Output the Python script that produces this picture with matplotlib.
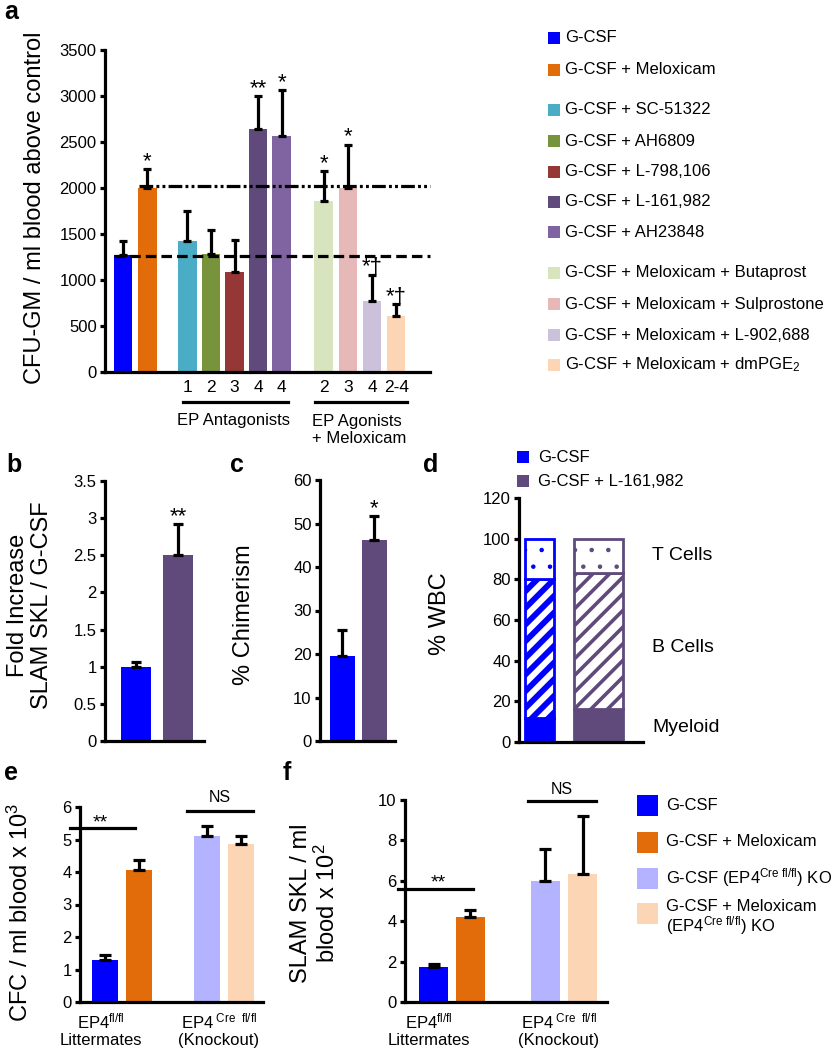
import matplotlib
matplotlib.use('Agg')
import matplotlib.pyplot as plt
from matplotlib.patches import Rectangle
from matplotlib.transforms import blended_transform_factory as btf
import numpy as np

plt.rcParams['font.family'] = ['Liberation Sans', 'DejaVu Sans']
plt.rcParams['mathtext.fontset'] = 'custom'
plt.rcParams['mathtext.rm'] = 'Liberation Sans'
plt.rcParams['mathtext.it'] = 'Liberation Sans:italic'
plt.rcParams['mathtext.bf'] = 'Liberation Sans:bold'
plt.rcParams['hatch.linewidth'] = 1.0

# ---------------- data ----------------
a_labels = ['G-CSF', 'G-CSF + Meloxicam', 'G-CSF + SC-51322', 'G-CSF + AH6809',
            'G-CSF + L-798,106', 'G-CSF + L-161,982', 'G-CSF + AH23848',
            'G-CSF + Meloxicam + Butaprost', 'G-CSF + Meloxicam + Sulprostone',
            'G-CSF + Meloxicam + L-902,688', 'G-CSF + Meloxicam + dmPGE$_2$']
a_values = [1270, 2000, 1420, 1280, 1090, 2640, 2570, 1860, 2000, 775, 605]
a_err_top = [1420, 2205, 1750, 1545, 1430, 2995, 3060, 2186, 2470, 1055, 736]
a_colors = ['#0000FF', '#E36C0A', '#4BACC6', '#77933C', '#953735', '#604A7B',
            '#8064A2', '#D7E4BD', '#E6B9B8', '#CCC1DA', '#FCD5B5']
a_xticks = ['', '', '1', '2', '3', '4', '4', '2', '3', '4', '2-4']
a_sig = ['', '*', '', '', '', '**', '*', '*', '*', '*\u2020', '*\u2020']
a_ref_gcsf = 1262
a_ref_melox = 2023
a_groups = ['EP Antagonists', 'EP Agonists\n+ Meloxicam']

b_values = [1.0, 2.5]
b_err_top = [1.07, 2.92]
b_sig = ['', '**']
c_values = [19.5, 46.2]
c_err_top = [25.5, 51.7]
c_sig = ['', '*']
bc_colors = ['#0000FF', '#604A7B']

d_labels = ['G-CSF', 'G-CSF + L-161,982']
d_myeloid = [12, 16]
d_bcells = [68, 67]
d_tcells = [20, 17]
d_types = ['T Cells', 'B Cells', 'Myeloid']

ef_labels = ['G-CSF', 'G-CSF + Meloxicam', 'G-CSF (EP4$^{\\rm Cre\\ fl/fl}$) KO',
             'G-CSF + Meloxicam\n(EP4$^{\\rm Cre\\ fl/fl}$) KO']
ef_colors = ['#0000FF', '#E36C0A', '#B3B3FF', '#FCD5B5']
ef_groups = ['EP4$^{\\rm fl/fl}$\nLittermates', 'EP4$^{\\rm\\ Cre\\ \\ fl/fl}$\n(Knockout)']
e_values = [1.3, 4.05, 5.1, 4.85]
e_err_top = [1.46, 4.36, 5.42, 5.11]
f_values = [1.73, 4.2, 6.0, 6.35]
f_err_top = [1.9, 4.54, 7.57, 9.19]

# ---------------- figure ----------------
W, H = 831, 1050
fig = plt.figure(figsize=(W / 100, H / 100), dpi=100)


def fx(px):
    return px / W


def fy(py):
    return 1 - py / H


def add_ax(l, r, t, b):
    return fig.add_axes([fx(l), fy(b), (r - l) / W, (b - t) / H])


LW = 2.3
STAR = 16
YLAB = 17


def style(ax, tl=12):
    for s in ['top', 'right']:
        ax.spines[s].set_visible(False)
    for s in ['left', 'bottom']:
        ax.spines[s].set_linewidth(LW)
    ax.tick_params(axis='y', direction='out', length=3.5, width=LW, labelsize=tl, pad=2.5)
    ax.tick_params(axis='x', length=0, labelsize=12.5)
    ax.set_facecolor('none')


def errs(ax, x, vals, tops, capsize):
    vals = np.array(vals, float)
    tops = np.array(tops, float)
    ax.errorbar(x, vals, yerr=[np.zeros_like(vals), tops - vals], fmt='none',
                ecolor='black', elinewidth=LW, capsize=capsize, capthick=LW, zorder=3)


def stars(ax, xs, tops, sig, fs=STAR, off=1.5):
    for xi, top, s in zip(xs, tops, sig):
        if s:
            ax.annotate(s, (xi, top), xytext=(0, off), textcoords='offset points',
                        ha='center', va='baseline', fontsize=fs)


def legend_box(px, py, size, color, label, fs, tx, ty=None):
    if ty is None:
        ty = py
    fig.add_artist(Rectangle((fx(px), fy(py + size / 2)), size / W, size / H,
                             transform=fig.transFigure, facecolor=color, edgecolor='none'))
    fig.text(fx(tx), fy(ty), label, fontsize=fs, ha='left', va='center', linespacing=1.0)


# ---------------- panel a ----------------
axa = add_ax(105, 430, 50, 372)
style(axa)
a_x = [0, 1, 2.65, 3.62, 4.59, 5.56, 6.53, 8.25, 9.25, 10.25, 11.24]
axa.bar(a_x, a_values, width=0.76, color=a_colors, zorder=2)
errs(axa, a_x, a_values, a_err_top, 2.8)
axa.set_xlim(-0.74, 12.63)
axa.set_ylim(0, 3500)
axa.set_yticks(np.arange(0, 3501, 500))
axa.set_xticks(a_x)
axa.set_xticklabels(a_xticks)
axa.tick_params(axis='x', pad=6)
axa.plot([-0.37, 12.63], [a_ref_gcsf] * 2, color='black', lw=LW, dashes=(3.3, 1.6), zorder=4, clip_on=False)
axa.plot([0.66, 12.63], [a_ref_melox] * 2, color='black', lw=LW, dashes=(4.3, 1, 0.9, 1, 0.9, 1), zorder=4, clip_on=False)
stars(axa, a_x, a_err_top, a_sig)
tr = btf(axa.transData, fig.transFigure)
axa.plot([2.47, 6.79], [fy(402)] * 2, color='black', lw=LW, transform=tr, clip_on=False)
axa.plot([7.9, 11.69], [fy(402)] * 2, color='black', lw=LW, transform=tr, clip_on=False)
axa.text(4.53, fy(420), a_groups[0], transform=tr, ha='center', va='center', fontsize=12)
axa.text(7.78, fy(430), a_groups[1], transform=tr, ha='left', va='center', fontsize=12,
         linespacing=1.15)
fig.text(fx(35), fy(208), 'CFU-GM / ml blood above control', rotation=90,
         ha='center', va='center', fontsize=YLAB)
fig.text(fx(4), fy(12), 'a', fontsize=18, fontweight='bold', ha='left', va='center')

legend_rows = [38, 70, 110, 141, 172, 202, 232, 273, 304, 335, 365]
for yy, col, lab in zip(legend_rows, a_colors, a_labels):
    legend_box(548, yy, 12, col, lab, 12, 565)

# ---------------- panel b ----------------
axb = add_ax(105, 204, 481, 741)
style(axb)
axb.bar([0, 1], b_values, width=0.71, color=bc_colors, zorder=2)
errs(axb, [0, 1], b_values, b_err_top, 3.6)
axb.set_xlim(-0.74, 1.62)
axb.set_ylim(0, 3.5)
axb.set_yticks(np.arange(0, 3.51, 0.5))
axb.set_yticklabels(['0', '0.5', '1', '1.5', '2', '2.5', '3', '3.5'])
axb.set_xticks([])
stars(axb, [0, 1], b_err_top, b_sig)
fig.text(fx(30), fy(605), 'Fold Increase\nSLAM SKL / G-CSF', rotation=90,
         ha='center', va='center', fontsize=YLAB, linespacing=1.15)
fig.text(fx(6), fy(465), 'b', fontsize=18, fontweight='bold', ha='left', va='center')

# ---------------- panel c ----------------
axc = add_ax(320, 395, 480, 741)
style(axc)
axc.bar([0, 1], c_values, width=0.78, color=bc_colors, zorder=2)
errs(axc, [0, 1], c_values, c_err_top, 3.6)
axc.set_xlim(-0.70, 1.64)
axc.set_ylim(0, 60)
axc.set_yticks(np.arange(0, 61, 10))
axc.set_xticks([])
stars(axc, [0, 1], c_err_top, c_sig)
fig.text(fx(244), fy(615), '% Chimerism', rotation=90, ha='center', va='center', fontsize=YLAB)
fig.text(fx(230), fy(465), 'c', fontsize=18, fontweight='bold', ha='left', va='center')

# ---------------- panel d ----------------
axd = add_ax(519, 643, 498, 742)
style(axd)
d_x = [0, 1]
d_w = [0.49, 0.83]
d_cols = bc_colors
axd.bar(d_x, d_myeloid, width=d_w, color=d_cols, edgecolor=d_cols, linewidth=2, zorder=2)
hb = axd.bar(d_x, d_bcells, bottom=d_myeloid, width=d_w, facecolor='white',
             edgecolor=d_cols, hatch='//', linewidth=2, zorder=2)
ht = axd.bar(d_x, d_tcells, bottom=np.array(d_myeloid) + np.array(d_bcells), width=d_w,
             facecolor='white', edgecolor=d_cols, hatch='.', linewidth=2, zorder=2)
for p, hw in zip(hb.patches, [4.2, 2.6]):
    try:
        p.set_hatch_linewidth(hw)
    except Exception:
        pass
for p in ht.patches:
    try:
        p.set_hatch_linewidth(0.8)
    except Exception:
        pass
axd.set_xlim(-0.35, 1.75)
axd.set_ylim(0, 120)
axd.set_yticks(np.arange(0, 121, 20))
axd.set_xticks([])
fig.text(fx(440), fy(614), '% WBC', rotation=90, ha='center', va='center', fontsize=YLAB)
fig.text(fx(423), fy(465), 'd', fontsize=18, fontweight='bold', ha='left', va='center')
for yy, lab in zip([556, 648, 727], d_types):
    fig.text(fx(652), fy(yy), lab, fontsize=14, ha='left', va='center')
for yy, col, lab in zip([457, 481], d_cols, d_labels):
    legend_box(517, yy, 12, col, lab, 12, 538)

# ---------------- panel e ----------------
axe = add_ax(80, 263, 807, 1002)
style(axe)
e_x = [0, 1, 2.97, 3.94]
axe.bar(e_x, e_values, width=0.75, color=ef_colors, zorder=2)
errs(axe, e_x, e_values, e_err_top, 4.3)
axe.set_xlim(-0.72, 4.58)
axe.set_ylim(0, 6)
axe.set_yticks(np.arange(0, 7, 1))
axe.set_xticks([])
axe.plot([-1.01, 0.87], [5.35, 5.35], color='black', lw=LW, clip_on=False)
axe.text(-0.14, 5.38, '**', ha='center', va='baseline', fontsize=14)
axe.plot([2.38, 4.29], [5.88, 5.88], color='black', lw=LW, clip_on=False)
axe.text(3.33, 6.14, 'NS', ha='center', va='baseline', fontsize=11.5, clip_on=False)
tre = btf(axe.transData, fig.transFigure)
for xg, lab in zip([-0.12, 3.30], ef_groups):
    axe.text(xg, fy(1030), lab, transform=tre, ha='center', va='center', fontsize=12,
             linespacing=1.15)
fig.text(fx(20), fy(912), 'CFC / ml blood x 10$^3$', rotation=90, ha='center', va='center',
         fontsize=YLAB)
fig.text(fx(4), fy(773), 'e', fontsize=18, fontweight='bold', ha='left', va='center')

# ---------------- panel f ----------------
axf = add_ax(405, 607, 800, 1002)
style(axf)
f_x = [0, 1, 3.05, 4.07]
axf.bar(f_x, f_values, width=0.79, color=ef_colors, zorder=2)
errs(axf, f_x, f_values, f_err_top, 4.3)
axf.set_xlim(-0.79, 4.74)
axf.set_ylim(0, 10)
axf.set_yticks(np.arange(0, 11, 2))
axf.set_xticks([])
axf.plot([-0.99, 1.07], [5.59, 5.59], color='black', lw=LW, clip_on=False)
axf.text(0.11, 5.69, '**', ha='center', va='baseline', fontsize=14)
axf.plot([2.58, 4.44], [9.95, 9.95], color='black', lw=LW, clip_on=False)
axf.text(3.5, 10.32, 'NS', ha='center', va='baseline', fontsize=11.5, clip_on=False)
trf = btf(axf.transData, fig.transFigure)
for xg, lab in zip([-0.14, 3.42], ef_groups):
    axf.text(xg, fy(1030), lab, transform=trf, ha='center', va='center', fontsize=12,
             linespacing=1.15)
fig.text(fx(315), fy(903), 'SLAM SKL / ml\nblood x 10$^2$', rotation=90, ha='center',
         va='center', fontsize=YLAB, linespacing=1.1)
fig.text(fx(283), fy(773), 'f', fontsize=18, fontweight='bold', ha='left', va='center')

for yy, ty, col, lab in zip([805, 842, 878, 913], [805, 842, 878, 918], ef_colors, ef_labels):
    legend_box(637, yy, 21, col, lab, 12, 666, ty)

fig.savefig('out.png', dpi=100)
